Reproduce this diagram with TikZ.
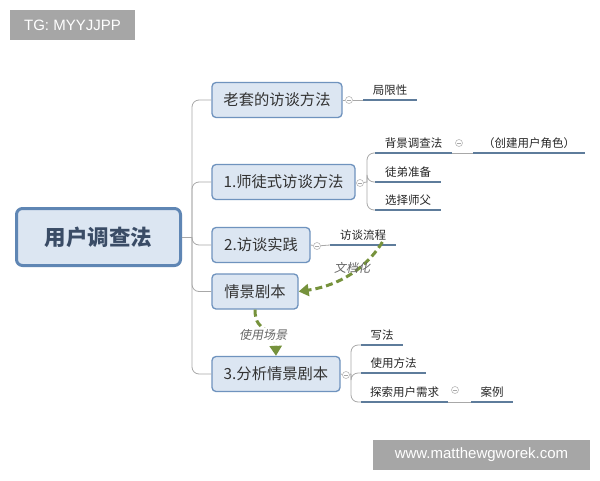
\documentclass[tikz,border=0pt]{standalone}
\usepackage{fontspec}
\setmainfont{Noto Sans CJK SC}
\newfontfamily\cjkit[FakeSlant=0.2]{Noto Sans CJK SC}
\newfontfamily\latinsans{Liberation Sans}
\usetikzlibrary{arrows.meta}
\definecolor{boxfill}{HTML}{DCE6F2}
\definecolor{boxline}{HTML}{6F93BE}
\definecolor{rootline}{HTML}{5F86B4}
\definecolor{roottext}{HTML}{3A4C66}
\definecolor{branchgray}{HTML}{A8A8A8}
\definecolor{uline}{HTML}{5E7C9B}
\definecolor{olive}{HTML}{76923C}
\definecolor{wmgray}{HTML}{A6A6A6}
\definecolor{labgray}{HTML}{666666}
\tikzset{
  rootbox/.style={draw=rootline, line width=3pt, fill=boxfill, rounded corners=6pt,
    minimum width=164pt, minimum height=57pt, inner sep=0pt,
    font=\fontsize{21.5}{24}\selectfont\bfseries, text=roottext},
  topicbox/.style={draw=boxline, line width=1.3pt, fill=boxfill, rounded corners=4pt,
    minimum height=35pt, inner sep=0pt, font=\fontsize{15.3}{18}\selectfont, text=black!80},
  branch/.style={draw=branchgray, line width=0.8pt, rounded corners=7pt},
  leaf/.style={anchor=south west, minimum height=20pt, inner sep=0pt,
    font=\fontsize{11.5}{14}\selectfont, text=black!85},
  ul/.style={draw=uline, line width=2.6pt},
  minus/.style={circle, draw=branchgray!80, fill=white, line width=0.6pt, minimum size=7pt, inner sep=0pt,
    path picture={\draw[branchgray, line width=0.6pt] ([xshift=-2pt]path picture bounding box.center) -- ([xshift=2pt]path picture bounding box.center);}},
  garrow/.style={draw=olive, line width=3pt, dash pattern=on 7pt off 4pt, -{Triangle[length=10pt,width=12pt]}},
  glabel/.style={font=\cjkit\fontsize{12}{14}\selectfont, text=labgray, inner sep=1pt},
  wm/.style={fill=wmgray, text=white, font=\latinsans\fontsize{15}{17}\selectfont, inner sep=0pt}
}
\begin{document}
\begin{tikzpicture}[x=1pt,y=-1pt]
\useasboundingbox[fill=white] (0,0) rectangle (600,480);

% watermarks
\node[wm, minimum width=125pt, minimum height=30pt] (tg) at (72.5,25) {TG: MYYJJPP};
\node[wm, minimum width=217pt, minimum height=30pt] (www) at (481.5,455) {www.matthewgworek.com};

% root and topics
\node[rootbox] (root) at (98.5,237) {用户调查法};
\node[topicbox, minimum width=130pt] (old) at (277,100) {老套的访谈方法};
\node[topicbox, minimum width=143pt] (m1) at (283.5,182) {1.师徒式访谈方法};
\node[topicbox, minimum width=98pt] (m2) at (261,245) {2.访谈实践};
\node[topicbox, minimum width=86pt] (sc) at (255,291.5) {情景剧本};
\node[topicbox, minimum width=128pt] (m3) at (276,374) {3.分析情景剧本};

\coordinate (tk) at (192,237);
\draw[branch] (root.east) -- (tk);
\draw[branch] (tk) |- (old.west);
\draw[branch] (tk) |- (m1.west);
\draw[branch] (tk) |- (m2.west);
\draw[branch] (tk) |- (sc.west);
\draw[branch] (tk) |- (m3.west);

% leaves
\node[leaf, minimum width=54pt] (L1) at (363,100) {局限性};
\node[leaf, minimum width=77pt] (b1) at (375,153) {背景调查法};
\node[leaf, minimum width=112pt] (b2) at (473,153) {（创建用户角色）};
\node[leaf, minimum width=66pt] (b3) at (375,182) {徒弟准备};
\node[leaf, minimum width=66pt] (b4) at (375,210) {选择师父};
\node[leaf, minimum width=66pt] (f1) at (330,245) {访谈流程};
\node[leaf, minimum width=42pt] (s1) at (361,345) {写法};
\node[leaf, minimum width=65pt] (s2) at (361,373) {使用方法};
\node[leaf, minimum width=87pt] (s3) at (361,402) {探索用户需求};
\node[leaf, minimum width=42pt] (s4) at (471,402) {案例};

% collapse markers
\node[minus] (cold) at (349,100) {};
\node[minus] (cm1) at (360,183) {};
\node[minus] (cb1) at (459,143) {};
\node[minus] (cm2) at (317,246) {};
\node[minus] (cm3) at (346,375) {};
\node[minus] (cs3) at (455,390) {};

% connectors
\draw[branch] (old.east) -- (cold) -- (L1.south west);
\coordinate (t1) at (367,182);
\draw[branch] (cm1) -- (t1);
\draw[branch] (t1) |- (b1.south west);
\draw[branch] (t1) |- (b3.south west);
\draw[branch] (t1) |- (b4.south west);
\draw[branch] (b1.south east) -- (b2.south west);
\draw[branch] (m2.east) -- (cm2) -- (f1.south west);
\coordinate (t3) at (351,374);
\draw[branch] (m3.east) -- (cm3) -- (t3);
\draw[branch] (t3) |- (s1.south west);
\draw[branch] (t3) |- (s2.south west);
\draw[branch] (t3) |- (s3.south west);
\draw[branch] (s3.south east) -- (s4.south west);

% underlines
\foreach \n in {L1,b1,b2,b3,b4,f1,s1,s2,s3,s4}
  \draw[ul] (\n.south west) -- (\n.south east);

% dashed green relations
\draw[garrow] ([xshift=-14pt,yshift=3pt]f1.south east) .. controls (362,275) and (330,287) .. (sc.east);
\node[glabel] (lab1) at (352,268) {文档化};
\draw[garrow] (sc.south) .. controls (255,335) and (275,325) .. (m3.north);
\node[glabel, fill=white] (lab2) at (263,335) {使用场景};
\end{tikzpicture}
\end{document}
